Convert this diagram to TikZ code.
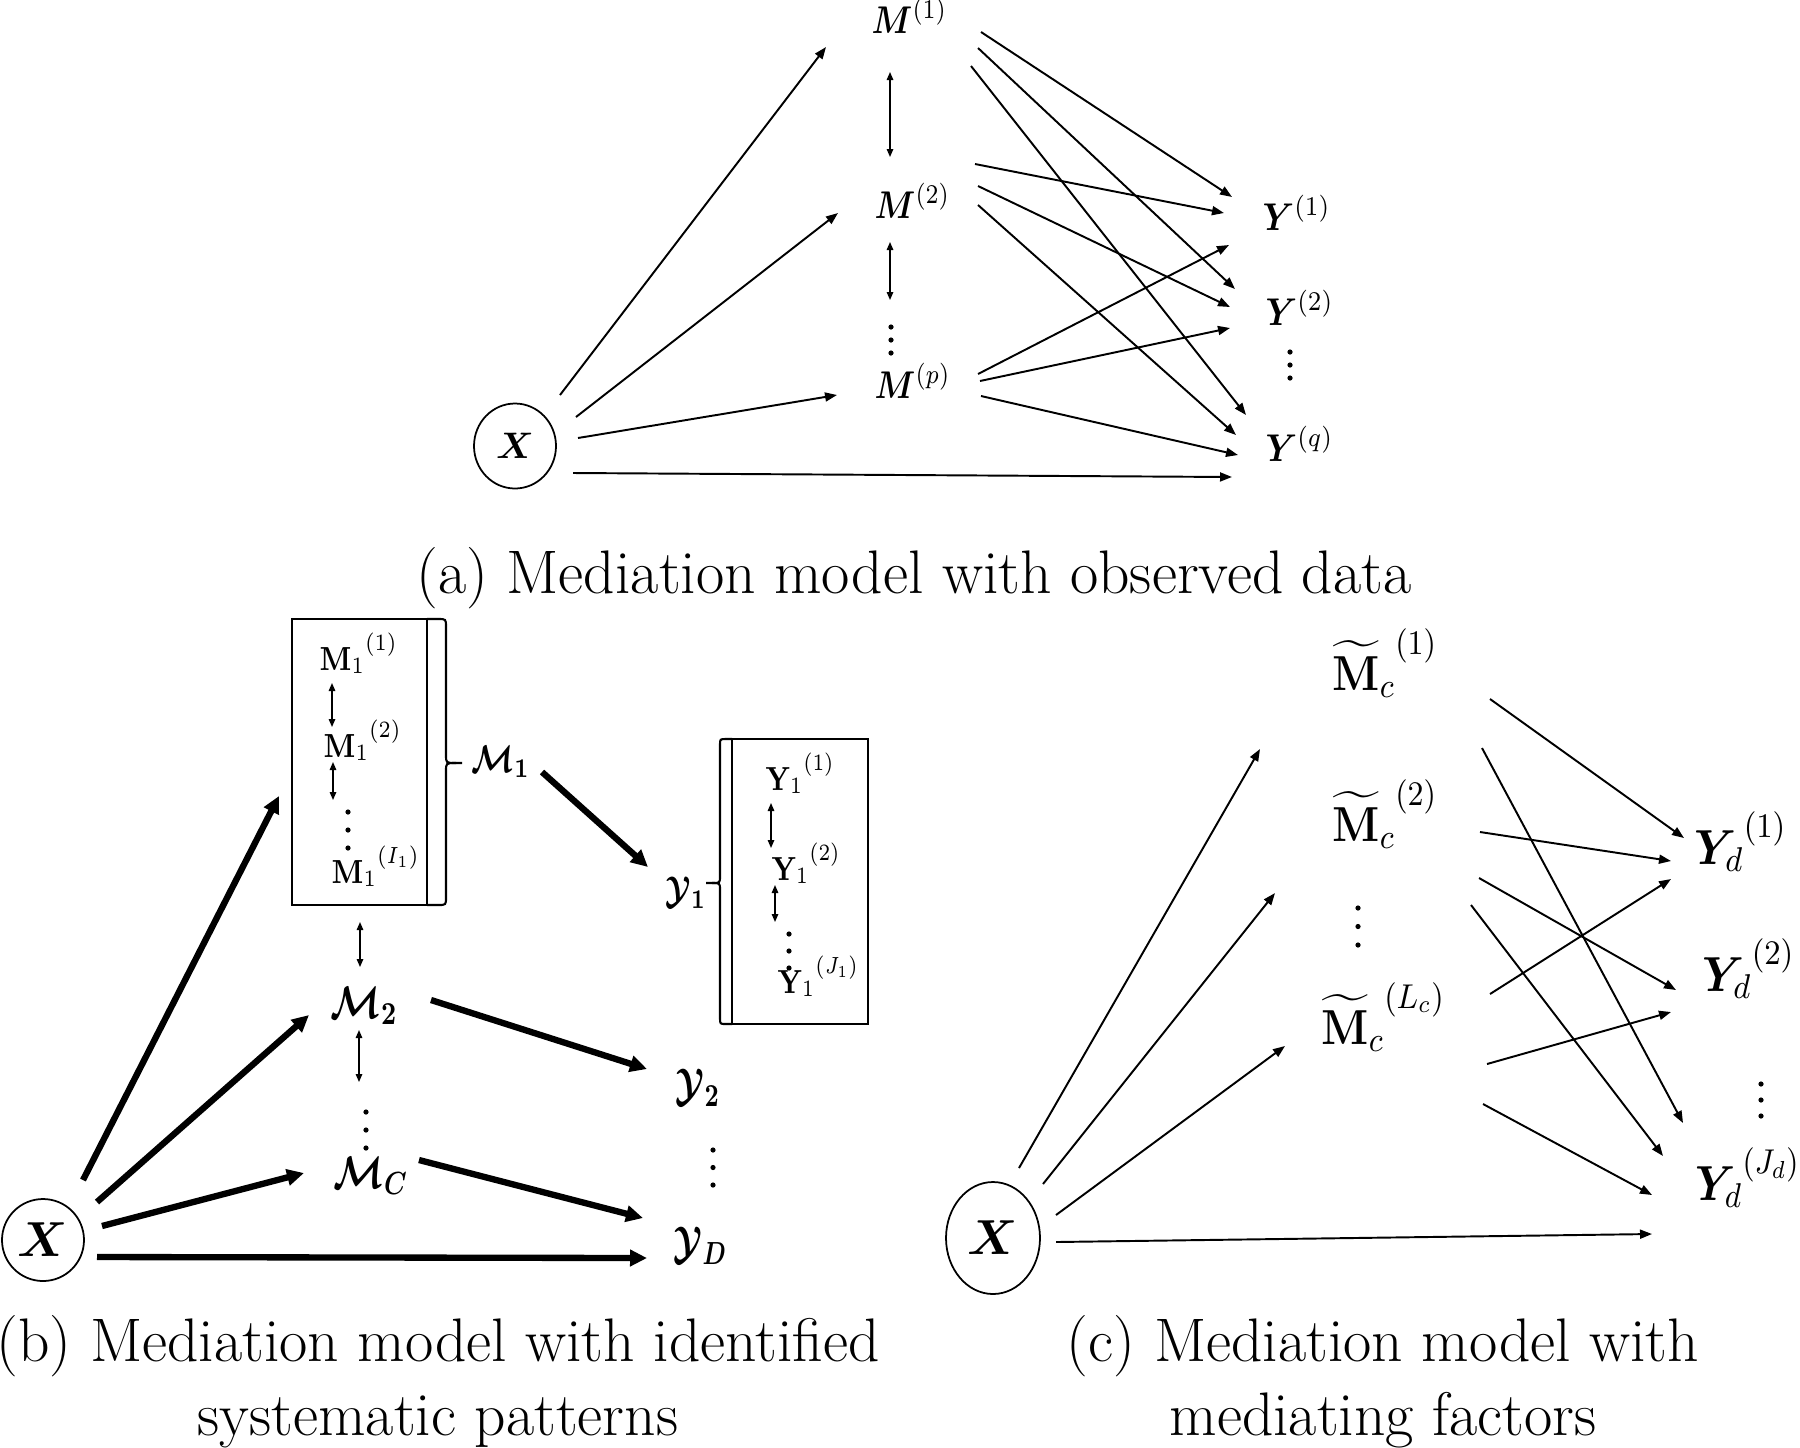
\documentclass[tikz,border=0pt]{standalone}
\usepackage{fix-cm}
\usepackage{graphicx}
\usepackage{amsmath,bm}
\usetikzlibrary{arrows.meta,shapes.geometric}
\newcommand\dotcol[3]{%
  \fill (#1,#2) circle (2.6);
  \fill (#1,{(#2+#3)/2}) circle (2.6);
  \fill (#1,#3) circle (2.6);}
% horizontally narrowed math label
\newcommand\nx[2]{\scalebox{#1}[1]{$#2$}}
% raised superscript
\newcommand\rsup[2]{^{\raisebox{#1}{$\scriptstyle #2$}}}
\tikzset{
  lbl/.style={inner sep=0pt, anchor=base west},
  fa/.style={font=\fontsize{11}{13}\selectfont},
  fbs/.style={font=\fontsize{13}{15}\selectfont},
  fbt/.style={font=\fontsize{11}{13}\selectfont},
  fbb/.style={font=\fontsize{9.5}{11}\selectfont},
  fc/.style={font=\fontsize{14}{16}\selectfont},
  captext/.style={inner sep=0pt, align=center, font=\fontsize{17.5}{21}\selectfont},
  thinA/.style={line width=0.55pt, -{Triangle[length=1.2mm,width=0.9mm]}},
  thickB/.style={line width=1.8pt, -{Triangle[length=1.7mm,width=1.6mm]}},
  dbl/.style={line width=0.4pt, {Triangle[length=0.8mm,width=0.65mm]}-{Triangle[length=0.8mm,width=0.65mm]}},
  boxline/.style={line width=0.6pt},
  xnode/.style={draw, ellipse, line width=0.5pt, inner sep=0pt},
}
\begin{document}
\begin{tikzpicture}[x=0.1mm,y=-0.1mm]
\useasboundingbox (0,0) rectangle (1800,1447);
\fill[white] (0,0) rectangle (1800,1447);

% ================= panel (a) =================
\node[xnode, minimum width=8.2mm, minimum height=8.5mm, font=\fontsize{10.5}{12}\selectfont] (aX) at (515,446) {$\bm{X}$};
\node[lbl,fa] (aM1) at (871,33) {\nx{0.84}{\bm{M}^{(1)}}};
\node[lbl,fa] (aM2) at (874,218) {\nx{0.84}{\bm{M}^{(2)}}};
\node[lbl,fa] (aMp) at (874,398) {\nx{0.84}{\bm{M}^{(p)}}};
\node[lbl,fa] (aY1) at (1262,230) {\nx{0.88}{\bm{Y}^{(1)}}};
\node[lbl,fa] (aY2) at (1265,325) {\nx{0.88}{\bm{Y}^{(2)}}};
\node[lbl,fa] (aYq) at (1265,461) {\nx{0.88}{\bm{Y}^{(q)}}};
\dotcol{891}{327}{353}
\dotcol{1290}{352}{378}

\coordinate (aXa) at (560,395); \coordinate (aM1in) at (826,47);
\coordinate (aXb) at (576,417); \coordinate (aM2in) at (838,213);
\coordinate (aXc) at (578,438); \coordinate (aMpin) at (837,395);
\coordinate (aXd) at (573,473); \coordinate (aYqin) at (1232,477);
\draw[thinA] (aXa) -- (aM1in);
\draw[thinA] (aXb) -- (aM2in);
\draw[thinA] (aXc) -- (aMpin);
\draw[thinA] (aXd) -- (aYqin);

\coordinate (aD1t) at (890,72); \coordinate (aD1b) at (890,157);
\coordinate (aD2t) at (890,242); \coordinate (aD2b) at (890,300);
\draw[dbl] (aD1t) -- (aD1b);
\draw[dbl] (aD2t) -- (aD2b);

\coordinate (m1a) at (981,32);  \coordinate (y1a) at (1232,197);
\coordinate (m1b) at (978,48);  \coordinate (y2a) at (1235,289);
\coordinate (m1c) at (971,66);  \coordinate (yqa) at (1246,415);
\coordinate (m2a) at (975,164); \coordinate (y1b) at (1224,213);
\coordinate (m2b) at (978,186); \coordinate (y2b) at (1230,307);
\coordinate (m2c) at (978,205); \coordinate (yqb) at (1236,435);
\coordinate (mpa) at (978,374); \coordinate (y1c) at (1229,245);
\coordinate (mpb) at (980,381); \coordinate (y2c) at (1230,328);
\coordinate (mpc) at (981,396); \coordinate (yqc) at (1238,455);
\foreach \s/\e in {m1a/y1a,m1b/y2a,m1c/yqa,m2a/y1b,m2b/y2b,m2c/yqb,mpa/y1c,mpb/y2c,mpc/yqc}
  \draw[thinA] (\s) -- (\e);

\node[captext, anchor=base] (capa) at (914,593) {(a) Mediation model with observed data};

% ================= panel (b) =================
\node[xnode, minimum width=8.2mm, minimum height=8.2mm, font=\fontsize{14}{16}\selectfont] (bX) at (43,1240) {$\bm{X}$};

\node[draw, boxline, minimum width=13.5mm, minimum height=28.6mm, inner sep=0pt] (bMbox) at (359.5,762) {};
\draw[boxline] (427,619) -- (438,619) .. controls (446,619) .. (446,627) -- (446,755)
   .. controls (446,763) .. (456,763) -- (462,763);
\draw[boxline] (456,763) .. controls (446,763) .. (446,771) -- (446,897)
   .. controls (446,905) .. (438,905) -- (427,905);
\node[lbl,fbb] (bM11) at (319,670) {\nx{0.85}{{\mathbf{M}_1}\rsup{0.15em}{(1)}}};
\node[lbl,fbb] (bM12) at (323,757) {\nx{0.85}{{\mathbf{M}_1}\rsup{0.15em}{(2)}}};
\node[lbl,fbb] (bM1I) at (331,883) {\nx{0.85}{{\mathbf{M}_1}\rsup{0.15em}{(I_1)}}};
\coordinate (bd1t) at (332,683); \coordinate (bd1b) at (332,727);
\coordinate (bd2t) at (333,762); \coordinate (bd2b) at (333,800);
\draw[dbl] (bd1t) -- (bd1b);
\draw[dbl] (bd2t) -- (bd2b);
\dotcol{348}{812}{848}

\node[lbl,fbt] (bM1) at (471,772) {\nx{0.8}{\bm{\mathcal{M}_1}}};
\node[lbl,fbs] (bM2) at (330,1018) {\nx{0.8}{\bm{\mathcal{M}_2}}};
\node[lbl,fbs] (bMC) at (333,1188) {\nx{0.8}{\bm{\mathcal{M}_C}}};
\coordinate (bd3t) at (360,922); \coordinate (bd3b) at (360,967);
\coordinate (bd4t) at (359,1030); \coordinate (bd4b) at (359,1082);
\draw[dbl] (bd3t) -- (bd3b);
\draw[dbl] (bd4t) -- (bd4b);
\dotcol{366}{1112}{1148}

\node[draw, boxline, minimum width=13.6mm, minimum height=28.5mm, inner sep=0pt] (bYbox) at (800,881.5) {};
\draw[boxline] (732,739) -- (726,739) .. controls (720,739) .. (720,745) -- (720,876)
   .. controls (720,883) .. (712,883) -- (706,883);
\draw[boxline] (712,883) .. controls (720,883) .. (720,890) -- (720,1018)
   .. controls (720,1024) .. (726,1024) -- (732,1024);
\node[lbl,fbb] (bY11) at (765,790) {\nx{0.82}{{\mathbf{Y}_1}\rsup{0.15em}{(1)}}};
\node[lbl,fbb] (bY12) at (771,880) {\nx{0.82}{{\mathbf{Y}_1}\rsup{0.15em}{(2)}}};
\node[lbl,fbb] (bY1J) at (777,993) {\nx{0.82}{{\mathbf{Y}_1}\rsup{0.15em}{(J_1)}}};
\coordinate (bd5t) at (771,803); \coordinate (bd5b) at (771,848);
\coordinate (bd6t) at (775,885); \coordinate (bd6b) at (775,922);
\draw[dbl] (bd5t) -- (bd5b);
\draw[dbl] (bd6t) -- (bd6b);
\dotcol{789}{934}{968}

\node[lbl,fbt] (bY1) at (665,903) {\nx{0.78}{\bm{\mathcal{Y}_1}}};
\node[lbl,fbs] (bY2) at (675,1100) {\nx{0.75}{\bm{\mathcal{Y}_2}}};
\node[lbl,fbs] (bYD) at (673,1258) {\nx{0.75}{\bm{\mathcal{Y}_D}}};
\dotcol{713}{1150}{1185}

\coordinate (bXa) at (83,1180);  \coordinate (bBoxin) at (279,796);
\coordinate (bXb) at (97,1202);  \coordinate (bM2in) at (309,1015);
\coordinate (bXc) at (102,1226); \coordinate (bMCin) at (304,1173);
\coordinate (bXd) at (97,1257);  \coordinate (bYDin) at (647,1258);
\coordinate (bM1out) at (542,772); \coordinate (bY1in) at (648,867);
\coordinate (bM2out) at (431,1000); \coordinate (bY2in) at (647,1069);
\coordinate (bMCout) at (419,1160); \coordinate (bYDin2) at (643,1218);
\draw[thickB] (bXa) -- (bBoxin);
\draw[thickB] (bXb) -- (bM2in);
\draw[thickB] (bXc) -- (bMCin);
\draw[thickB] (bXd) -- (bYDin);
\draw[thickB] (bM1out) -- (bY1in);
\draw[thickB] (bM2out) -- (bY2in);
\draw[thickB] (bMCout) -- (bYDin2);

\node[captext, anchor=center] (capb) at (438,1382) {(b) Mediation model with identified\\systematic patterns};

% ================= panel (c) =================
\node[xnode, minimum width=9.4mm, minimum height=11.2mm, font=\fontsize{14}{16}\selectfont] (cX) at (993,1238) {$\bm{X}$};
\node[lbl,fc] (cM1) at (1332,690) {\nx{0.9}{{\widetilde{\mathbf{M}}_c{}}\rsup{-0.05em}{(1)}}};
\node[lbl,fc] (cM2) at (1332,841) {\nx{0.9}{{\widetilde{\mathbf{M}}_c{}}\rsup{-0.05em}{(2)}}};
\node[lbl,fc] (cML) at (1321,1044) {\nx{0.9}{{\widetilde{\mathbf{M}}_c{}}\rsup{-0.05em}{(L_c)}}};
\dotcol{1358}{908}{945}
\node[lbl,fc] (cY1) at (1694,864) {\nx{0.92}{{\bm{Y}_d}\rsup{0.1em}{(1)}}};
\node[lbl,fc] (cY2) at (1702,991) {\nx{0.92}{{\bm{Y}_d}\rsup{0.1em}{(2)}}};
\node[lbl,fc] (cYJ) at (1695,1200) {\nx{0.88}{{\bm{Y}_d}\rsup{0.1em}{(J_d)}}};
\dotcol{1761}{1084}{1116}

\coordinate (cXa) at (1019,1168); \coordinate (cM1in) at (1260,749);
\coordinate (cXb) at (1043,1184); \coordinate (cM2in) at (1275,893);
\coordinate (cXc) at (1056,1215); \coordinate (cMLin) at (1285,1046);
\coordinate (cXd) at (1056,1242); \coordinate (cYJin) at (1652,1234);
\draw[thinA] (cXa) -- (cM1in);
\draw[thinA] (cXb) -- (cM2in);
\draw[thinA] (cXc) -- (cMLin);
\draw[thinA] (cXd) -- (cYJin);

\coordinate (c1a) at (1490,699); \coordinate (e1a) at (1684,838);
\coordinate (c1b) at (1482,748); \coordinate (e1b) at (1683,1123);
\coordinate (c2a) at (1480,832); \coordinate (e2a) at (1671,861);
\coordinate (c2b) at (1479,878); \coordinate (e2b) at (1676,990);
\coordinate (c2c) at (1471,905); \coordinate (e2c) at (1663,1156);
\coordinate (cLa) at (1490,994); \coordinate (eLa) at (1671,879);
\coordinate (cLb) at (1487,1064); \coordinate (eLb) at (1671,1012);
\coordinate (cLc) at (1483,1104); \coordinate (eLc) at (1652,1195);
\foreach \s/\e in {c1a/e1a,c1b/e1b,c2a/e2a,c2b/e2b,c2c/e2c,cLa/eLa,cLb/eLb,cLc/eLc}
  \draw[thinA] (\s) -- (\e);

\node[captext, anchor=center] (capc) at (1383,1382) {(c) Mediation model with\\mediating factors};
\end{tikzpicture}
\end{document}
